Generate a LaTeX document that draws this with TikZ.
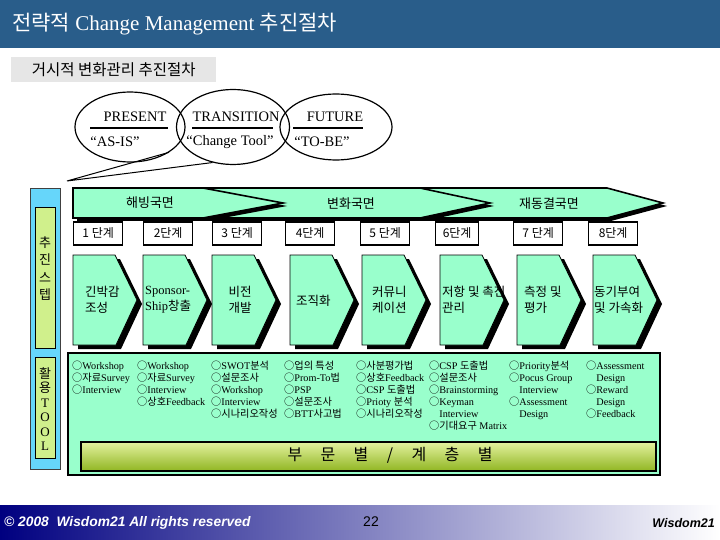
\documentclass[tikz,border=0pt]{standalone}
\usepackage{fontspec}
\setmainfont{Liberation Serif}
\setsansfont{Liberation Sans}
\newfontfamily\kr{Noto Sans CJK KR}
\newcommand{\ko}[1]{{\kr #1}}
\definecolor{titleblue}{RGB}{41,93,138}
\definecolor{subgrey}{RGB}{230,230,230}
\definecolor{mint}{RGB}{153,255,204}
\definecolor{skycyan}{RGB}{102,214,250}
\definecolor{limegreen}{RGB}{208,240,140}
\definecolor{barlight}{RGB}{228,242,160}
\definecolor{bardark}{RGB}{145,182,35}
\definecolor{footnavy}{RGB}{0,0,128}
\definecolor{footmid}{RGB}{160,160,195}
\usetikzlibrary{positioning,calc,shapes.geometric}
\tikzset{
  phase/.style={fill=mint, draw=black, line width=1.6pt, line join=miter},
  phaseshadow/.style={fill=black, shift={(4pt,-3pt)}},
  stepshape/.style={fill=mint, draw=black, line width=0.8pt},
  stepshadow/.style={fill=black, shift={(5pt,-4pt)}},
  stepbox/.style={draw=black, line width=1.3pt, fill=white, anchor=west, minimum width=49pt, minimum height=23pt, inner sep=0pt, font=\kr\fontsize{12}{14}\selectfont},
  steptext/.style={anchor=west, align=left, inner sep=0pt, font=\kr\fontsize{12.5}{16}\selectfont},
  phasetext/.style={inner sep=0pt, font=\kr\fontsize{13}{15}\selectfont},
  eraname/.style={inner sep=0pt, font=\fontsize{14.5}{17}\selectfont},
  toolcol/.style={anchor=north west, align=left, inner sep=0pt, font=\fontsize{10.2}{12}\selectfont},
  sidetext/.style={align=center, inner sep=0pt, font=\kr\fontsize{13}{17.5}\selectfont},
}

\begin{document}
\begin{tikzpicture}[x=1pt,y=-1pt]
  \useasboundingbox (0,0) rectangle (720,540);

  % title
  \fill[titleblue] (0,0) rectangle (720,48);
  \node[anchor=west, text=white, inner sep=0pt, font=\fontsize{21}{24}\selectfont] (title) at (12,24) {\ko{전략적} Change Management \ko{추진절차}};
  \node[fill=subgrey, anchor=west, minimum width=205pt, minimum height=25pt, inner sep=0pt, font=\kr\fontsize{15.5}{18}\selectfont] (subtitle) at (11,69.5) {거시적 변화관리 추진절차};

  % present / transition / future
  \node[ellipse, draw, line width=1.2pt, minimum width=110pt, minimum height=70pt] (present) at (130,127) {};
  \node[ellipse, draw, line width=1.2pt, minimum width=113pt, minimum height=75pt] (transition) at (233,127) {};
  \node[ellipse, draw, line width=1.2pt, minimum width=112pt, minimum height=66pt] (future) at (336,127) {};

  \node[eraname] (presentlbl) at (135,117) {PRESENT};
  \node[eraname] (asis) at (115,142) {“AS-IS”};
  \node[eraname] (transitionlbl) at (236,117) {TRANSITION};
  \node[eraname] (changetool) at (230,142) {“Change Tool”};
  \node[eraname] (futurelbl) at (335,117) {FUTURE};
  \node[eraname] (tobe) at (322,142) {“TO-BE”};
  \draw[line width=1.3pt] (90,128) -- (168,128);
  \draw[line width=1.3pt] (192,128) -- (273,128);
  \draw[line width=1.3pt] (293,128) -- (363,128);

  \coordinate (callout) at (67,181);
  \draw[line width=1pt] (present.-33) -- (callout) -- (transition.-120);

  % side column
  \node[draw=black!75, fill=skycyan, anchor=north west, minimum width=30pt, minimum height=281pt, inner sep=0pt] (sidecol) at (30,188) {};
  \node[draw, line width=1.2pt, fill=limegreen, anchor=north west, minimum width=20pt, minimum height=141pt, inner sep=0pt] (stepsbox) at (35,207) {};
  \node[draw, line width=1.2pt, fill=limegreen, anchor=north west, minimum width=20pt, minimum height=101pt, inner sep=0pt] (toolsbox) at (35,357) {};
  \node[sidetext] (stepslbl) at (45,268.5) {추\\진\\스\\텝};
  \node[sidetext, font=\kr\fontsize{13}{14.5}\selectfont] (toolslbl) at (45,409) {활\\용\\\rmfamily T\\\rmfamily O\\\rmfamily O\\\rmfamily L};

  % phases
  \fill[phaseshadow] (420,188) -- (607,188) -- (663,203) -- (607,218) -- (420,218) -- cycle;
  \filldraw[phase] (420,188) -- (607,188) -- (663,203) -- (607,218) -- (420,218) -- cycle;
  \fill[phaseshadow] (203,188) -- (420,188) -- (490,203) -- (420,218) -- (203,218) -- cycle;
  \filldraw[phase] (203,188) -- (420,188) -- (490,203) -- (420,218) -- (203,218) -- cycle;
  \fill[phaseshadow] (73,188) -- (203,188) -- (283,203) -- (203,218) -- (73,218) -- cycle;
  \filldraw[phase] (73,188) -- (203,188) -- (283,203) -- (203,218) -- (73,218) -- cycle;
  \node[phasetext] (unfreeze) at (150,203) {해빙국면};
  \node[phasetext] (change) at (351,204) {변화국면};
  \node[phasetext] (refreeze) at (549,204) {재동결국면};

  % stage boxes
  \node[stepbox] (stage1) at (73,233.5) {1 단계};
  \node[stepbox] (stage2) at (143,233.5) {2단계};
  \node[stepbox] (stage3) at (212,233.5) {3 단계};
  \node[stepbox] (stage4) at (285,233.5) {4단계};
  \node[stepbox] (stage5) at (360,233.5) {5 단계};
  \node[stepbox, minimum width=43pt] (stage6) at (435,233.5) {6단계};
  \node[stepbox] (stage7) at (513,233.5) {7 단계};
  \node[stepbox] (stage8) at (588,233.5) {8단계};

  % stage arrows
  \foreach \l in {73,143,212,290,362,440,517,593} {
    \fill[stepshadow] (\l,255) -- (\l+42,255) -- (\l+64,300) -- (\l+43,345) -- (\l,345) -- cycle;
    \filldraw[stepshape] (\l,255) -- (\l+42,255) -- (\l+64,300) -- (\l+43,345) -- (\l,345) -- cycle;
  }
  \node[steptext] (task1) at (85,300) {긴박감\\조성};
  \node[steptext] (task2) at (145,300) {\rmfamily Sponsor-\\\rmfamily Ship\kr 창출};
  \node[steptext, anchor=center, align=center] (task3) at (240,300) {비전\\개발};
  \node[steptext] (task4) at (296,301) {조직화};
  \node[steptext] (task5) at (372,300) {커뮤니\\케이션};
  \node[steptext] (task6) at (442,300) {저항 및 촉진\\관리};
  \node[steptext] (task7) at (524,300) {측정 및\\평가};
  \node[steptext] (task8) at (594,300) {동기부여\\및 가속화};

  % tools
  \node[draw, line width=1.5pt, fill=mint, anchor=north west, minimum width=592pt, minimum height=122pt, inner sep=0pt] (toolarea) at (67,352) {};
  \node[toolcol] (tools1) at (72,361) {\ko{○}Workshop\\\ko{○자료}Survey\\\ko{○}Interview};
  \node[toolcol] (tools2) at (137,361) {\ko{○}Workshop\\\ko{○자료}Survey\\\ko{○}Interview\\\ko{○상호}Feedback};
  \node[toolcol] (tools3) at (211,361) {\ko{○}SWOT\ko{분석}\\\ko{○설문조사}\\\ko{○}Workshop\\\ko{○}Interview\\\ko{○시나리오작성}};
  \node[toolcol] (tools4) at (284,361) {\ko{○업의 특성}\\\ko{○}Prom-To\ko{법}\\\ko{○}PSP\\\ko{○설문조사}\\\ko{○}BTT\ko{사고법}};
  \node[toolcol] (tools5) at (356,361) {\ko{○사분평가법}\\\ko{○상호}Feedback\\\ko{○}CSP \ko{도출법}\\\ko{○}Prioty \ko{분석}\\\ko{○시나리오작성}};
  \node[toolcol] (tools6) at (429,361) {\ko{○}CSP \ko{도출법}\\\ko{○설문조사}\\\ko{○}Brainstorming\\\ko{○}Keyman\\\ko{\phantom{○}}Interview\\\ko{○기대요구} Matrix};
  \node[toolcol] (tools7) at (509,361) {\ko{○}Priority\ko{분석}\\\ko{○}Pocus Group\\\ko{\phantom{○}}Interview\\\ko{○}Assessment\\\ko{\phantom{○}}Design};
  \node[toolcol] (tools8) at (586,361) {\ko{○}Assessment\\\ko{\phantom{○}}Design\\\ko{○}Reward\\\ko{\phantom{○}}Design\\\ko{○}Feedback};

  \node[draw, line width=1.5pt, top color=barlight, bottom color=bardark, anchor=north west, minimum width=575pt, minimum height=29pt, inner sep=0pt] (levelbar) at (80,441) {};
  \node[inner sep=0pt, font=\kr\fontsize{16}{18}\selectfont] (leveltext) at (390,455.5) {부\hspace{1.15em}문\hspace{1.15em}별\hspace{1.15em}/\hspace{1.15em}계\hspace{1.15em}층\hspace{1.15em}별};

  % footer
  \shade[left color=footnavy, middle color=footmid, right color=white] (0,505) rectangle (720,540);
  \node[anchor=west, text=white, inner sep=0pt, font=\sffamily\bfseries\itshape\fontsize{13.8}{16}\selectfont] (copyright) at (4,523) {© 2008\ \ Wisdom21 All rights reserved};
  \node[inner sep=0pt, font=\sffamily\fontsize{14}{16}\selectfont] (pagenum) at (371,522) {22};
  \node[anchor=east, inner sep=0pt, font=\sffamily\bfseries\itshape\fontsize{12.5}{14}\selectfont] (brand) at (715,523) {Wisdom21};
\end{tikzpicture}
\end{document}
